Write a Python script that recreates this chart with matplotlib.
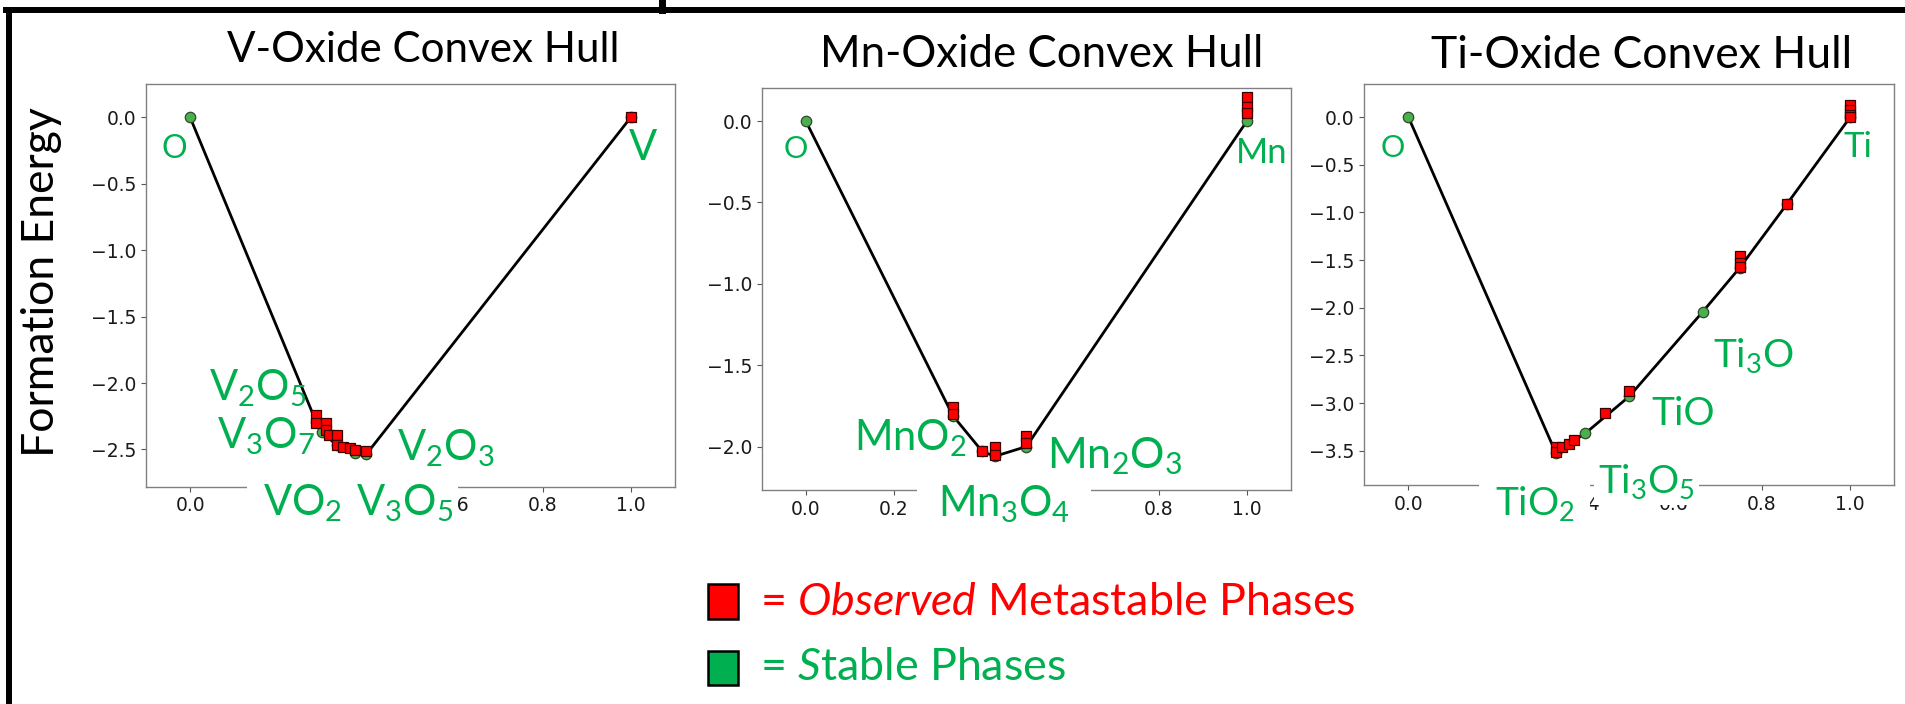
import matplotlib
matplotlib.use("Agg")
import matplotlib.pyplot as plt
from matplotlib.patches import Rectangle

# ── DATA: fraction of metal (x) vs formation energy (y) ──────────────
v_stable_x = [0.0, 0.2857, 0.3, 0.3333, 0.375, 0.4, 1.0]
v_stable_y = [0.0, -2.29, -2.37, -2.47, -2.53, -2.535, 0.0]
v_meta_x = [0.2857, 0.2857, 0.3077, 0.3077, 0.3158, 0.3333, 0.3333,
            0.3478, 0.3636, 0.375, 0.4, 1.0]
v_meta_y = [-2.24, -2.30, -2.30, -2.355, -2.39, -2.39, -2.465,
            -2.48, -2.49, -2.505, -2.51, 0.0]

mn_stable_x = [0.0, 0.3333, 0.4, 0.4286, 0.5, 1.0]
mn_stable_y = [0.0, -1.81, -2.03, -2.06, -2.0, 0.0]
mn_meta_x = [0.3333, 0.3333, 0.4, 0.4286, 0.4286, 0.5, 0.5, 1.0, 1.0, 1.0]
mn_meta_y = [-1.76, -1.80, -2.025, -2.0, -2.05, -1.935, -1.98, 0.146, 0.084, 0.047]

ti_stable_x = [0.0, 0.3333, 0.4, 0.5, 0.6667, 0.75, 0.8571, 1.0]
ti_stable_y = [0.0, -3.52, -3.32, -2.93, -2.04, -1.58, -0.91, 0.0]
ti_meta_x = [0.3333, 0.3333, 0.3478, 0.3636, 0.375, 0.4444, 0.5,
             0.75, 0.75, 0.75, 0.8571, 1.0, 1.0, 1.0, 1.0]
ti_meta_y = [-3.46, -3.51, -3.465, -3.43, -3.39, -3.10, -2.874,
             -1.46, -1.53, -1.57, -0.91, 0.129, 0.077, 0.024, 0.0]

titles = ["V-Oxide Convex Hull", "Mn-Oxide Convex Hull", "Ti-Oxide Convex Hull"]
x_ticks = [0.0, 0.2, 0.4, 0.6, 0.8, 1.0]
v_yticks = [0.0, -0.5, -1.0, -1.5, -2.0, -2.5]
mn_yticks = [0.0, -0.5, -1.0, -1.5, -2.0]
ti_yticks = [0.0, -0.5, -1.0, -1.5, -2.0, -2.5, -3.0, -3.5]

v_names = ["O", "V", "V$_2$O$_5$", "V$_3$O$_7$", "V$_2$O$_3$", "VO$_2$", "V$_3$O$_5$"]
mn_names = ["O", "Mn", "MnO$_2$", "Mn$_2$O$_3$", "Mn$_3$O$_4$"]
ti_names = ["O", "Ti", "Ti$_3$O", "TiO", "Ti$_3$O$_5$", "TiO$_2$"]

# ── LAYOUT ───────────────────────────────────────────────────────────
W, H = 1905, 704
GREEN_TXT = "#00B050"
GREEN_PT = "#4cae4c"
FONT = "Lato"

# label anchor (left, baseline) in data units, font size, white backing box pad
v_label_pos = [(-0.064, -0.31), (0.996, -0.32), (0.044, -2.13), (0.060, -2.49),
               (0.469, -2.58), (0.166, -2.995), (0.376, -2.995)]
v_label_size = [23, 30, 30, 30, 30, 30, 30]
v_label_pad = [None, None, None, None, None, 0.38, 0.12]

mn_label_pos = [(-0.051, -0.23), (0.974, -0.26), (0.109, -2.025),
                (0.547, -2.133), (0.299, -2.43)]
mn_label_size = [22, 25, 30, 31, 30]
mn_label_pad = [None, None, None, None, 0.5]

ti_label_pos = [(-0.0625, -0.414), (0.985, -0.414), (0.69, -2.62),
                (0.551, -3.23), (0.43, -3.95), (0.195, -4.18)]
ti_label_size = [22, 25, 28, 28, 28, 28]
ti_label_pad = [None, None, None, None, 0.1, 0.4]

plt.rcParams["mathtext.fontset"] = "custom"
plt.rcParams["mathtext.rm"] = FONT
plt.rcParams["mathtext.it"] = FONT + ":italic"
plt.rcParams["mathtext.bf"] = FONT + ":bold"

fig = plt.figure(figsize=(W / 100, H / 100), dpi=100, facecolor="white")


def px_rect(left, top, right, bottom):
    # pixel box -> figure fraction [left, bottom, width, height]
    return [left / W, (H - bottom) / H, (right - left) / W, (bottom - top) / H]


# overlay in pixel units for the frame, titles and key
ax_bg = fig.add_axes([0, 0, 1, 1])
ax_bg.set_xlim(0, W)
ax_bg.set_ylim(H, 0)
ax_bg.axis("off")

ax_bg.plot([9, 9], [10, H], color="black", lw=4.3, solid_capstyle="projecting")
ax_bg.plot([6, W], [9.7, 9.7], color="black", lw=4.3, solid_capstyle="projecting")
ax_bg.plot([662, 662], [0, 10], color="black", lw=5)

panels = [
    dict(rect=(146, 84, 675, 486.7), sx=v_stable_x, sy=v_stable_y,
         mx=v_meta_x, my=v_meta_y, ylim=(-2.78, 0.25), yticks=v_yticks,
         names=v_names, pos=v_label_pos, size=v_label_size, pad=v_label_pad,
         title_at=(423.5, 61.7), title_size=30.3),
    dict(rect=(761.7, 87.7, 1291, 490), sx=mn_stable_x, sy=mn_stable_y,
         mx=mn_meta_x, my=mn_meta_y, ylim=(-2.267, 0.205), yticks=mn_yticks,
         names=mn_names, pos=mn_label_pos, size=mn_label_size, pad=mn_label_pad,
         title_at=(1041.5, 66.7), title_size=31.5),
    dict(rect=(1364.3, 84, 1894.3, 485.3), sx=ti_stable_x, sy=ti_stable_y,
         mx=ti_meta_x, my=ti_meta_y, ylim=(-3.864, 0.349), yticks=ti_yticks,
         names=ti_names, pos=ti_label_pos, size=ti_label_size, pad=ti_label_pad,
         title_at=(1641.7, 67.7), title_size=32),
]

for p, title in zip(panels, titles):
    ax = fig.add_axes(px_rect(*p["rect"]))
    ax.plot(p["sx"], p["sy"], color="black", lw=2.0, zorder=2)
    ax.plot(p["sx"], p["sy"], "o", ms=7.5, mfc=GREEN_PT, mec="#2a4a2a",
            mew=0.9, zorder=3)
    ax.plot(p["mx"], p["my"], "s", ms=7, mfc="#ff0000", mec="#3a0000",
            mew=0.9, zorder=4)

    ax.set_xlim(-0.1, 1.1)
    ax.set_ylim(*p["ylim"])
    ax.set_xticks(x_ticks)
    ax.set_yticks(p["yticks"])
    ax.tick_params(labelsize=13.5, color="#555555", labelcolor="#1a1a1a")
    for sp in ax.spines.values():
        sp.set_color("#808080")
        sp.set_linewidth(1.0)

    for name, (lx, ly), fs, pad in zip(p["names"], p["pos"], p["size"], p["pad"]):
        bbox = None
        z = 11
        if pad is not None:
            # boxed labels sit under the plain ones so their white box never hides them
            bbox = dict(boxstyle=f"square,pad={pad}", fc="white", ec="none")
            z = 10
        ax.text(lx, ly, name, family=FONT, fontsize=fs, color=GREEN_TXT,
                ha="left", va="baseline", zorder=z, clip_on=False, bbox=bbox)

    ax_bg.text(*p["title_at"], title, family=FONT, fontsize=p["title_size"],
               color="black", ha="center", va="baseline")

ax_bg.text(41.7, 281.7, "Formation Energy", family=FONT, fontsize=32,
           rotation=90, ha="center", va="center", color="black")

# ── KEY ──────────────────────────────────────────────────────────────
ax_bg.add_patch(Rectangle((708.3, 584.3), 30, 34.7, fc="#ff0000", ec="black", lw=1.8))
ax_bg.add_patch(Rectangle((708.3, 650.7), 30, 34.3, fc="#00B050", ec="black", lw=1.8))
ax_bg.text(760, 615, "= $\\mathit{Observed}$ Metastable Phases", family=FONT,
           fontsize=32.2, color="#ff0000", ha="left", va="baseline")
ax_bg.text(760, 680, "= $\\mathit{S}$table Phases", family=FONT,
           fontsize=32.2, color=GREEN_TXT, ha="left", va="baseline")

fig.savefig("out.png", dpi=100, facecolor="white")
